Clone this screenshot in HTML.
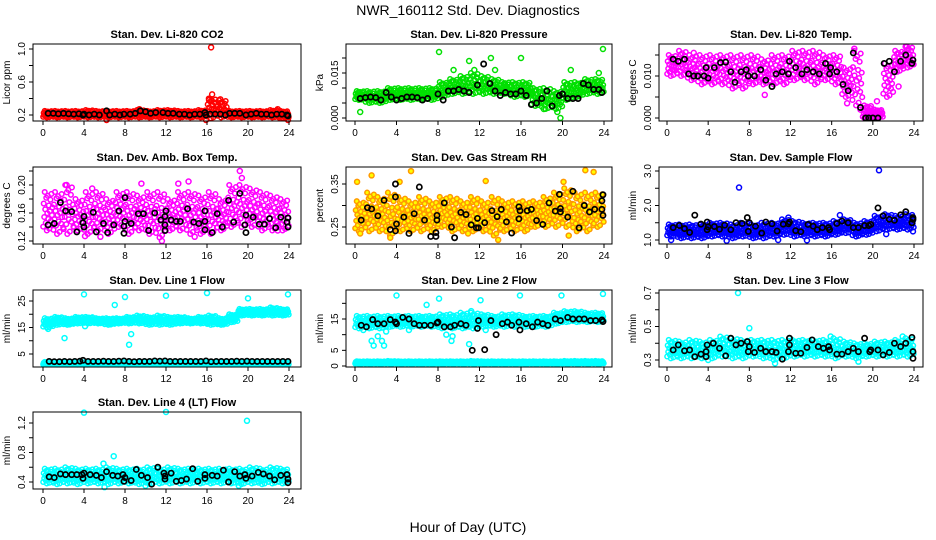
<!DOCTYPE html>
<html><head><meta charset="utf-8">
<style>
html,body{margin:0;padding:0;background:#fff;}
svg{display:block;font-family:"Liberation Sans",sans-serif;}
</style></head>
<body>
<svg id="chart" width="936" height="540" viewBox="0 0 936 540" xmlns="http://www.w3.org/2000/svg">
<rect width="936" height="540" fill="#fff"/>
<text x="468" y="15" text-anchor="middle" font-size="14">NWR_160112  Std. Dev. Diagnostics</text>
<text x="468" y="532" text-anchor="middle" font-size="14">Hour of Day (UTC)</text>
<g id="panels"></g>
</svg>
<script>
// ---------- DATA ----------
const hourTicks=[0,4,8,12,16,20,24];
// CO2
const co2Lo=[.17,.17,.17,.17,.17,.17,.17,.17,.17,.17,.17,.17,.17,.17,.17,.17,.16,.17,.17,.17,.17,.17,.17,.16];
const co2Hi=[.25,.25,.25,.25,.26,.25,.25,.25,.25,.26,.25,.26,.26,.25,.25,.26,.40,.38,.25,.25,.25,.25,.26,.25];
const co2Out=[[16.4,1.02],[16.5,.45],[16.2,.38],[17.3,.39],[15.9,.14],[23.9,.14],[6.2,.14],[9.4,.27],[22.9,.27]];
const co2Blk=[[0.5,.22],[1,.22],[1.5,.215],[2,.22],[2.5,.215],[3,.21],[3.5,.215],[3.9,.2],[4,.21],[4.5,.2],[5,.21],[5.5,.2],[6.2,.25],[6.5,.2],[7,.21],[7.5,.2],[7.9,.21],[8.5,.21],[9,.22],[9.5,.25],[10,.24],[10.5,.22],[11,.23],[11.7,.23],[12.2,.22],[12.7,.22],[13.3,.21],[13.8,.21],[14.3,.2],[14.8,.21],[15.3,.21],[15.8,.23],[15.9,.2],[16.3,.21],[16.8,.21],[17.3,.21],[17.8,.2],[18.2,.22],[18.7,.22],[19.2,.22],[19.8,.2],[20.3,.21],[20.8,.22],[21.3,.21],[21.8,.21],[22.3,.2],[22.8,.21],[23.3,.21],[23.8,.2],[23.9,.19]];
// Pressure
const presLo=[.006,.005,.005,.006,.006,.006,.006,.006,.007,.008,.008,.008,.008,.008,.008,.007,.007,.004,.003,.003,.006,.007,.008,.008];
const presHi=[.009,.009,.009,.010,.010,.010,.010,.010,.012,.013,.014,.015,.014,.013,.012,.012,.012,.010,.010,.009,.012,.012,.013,.013];
const presOut=[[0.5,.002],[8.1,.022],[11,.019],[11.5,.016],[13.1,.020],[13.5,.016],[16,.020],[19.5,.002],[19.8,0],[23.9,.023],[20.8,.016],[18.2,.003],[9.5,.016],[23.5,.015]];
const presBlk=[[0.5,.0065],[1,.0068],[1.5,.007],[2,.0068],[2.5,.006],[3,.0085],[3.5,.007],[4,.006],[4.5,.0065],[5,.007],[5.5,.007],[6,.0068],[6.5,.006],[7,.0065],[8,.008],[8.5,.006],[9,.009],[9.5,.009],[10,.0095],[10.5,.009],[11,.0085],[11.8,.011],[12.4,.018],[13,.0115],[13.5,.009],[14,.0075],[14.5,.0085],[15,.008],[15.5,.008],[16,.009],[16.5,.0075],[17,.0045],[17.5,.005],[18,.0065],[18.5,.009],[19,.004],[19.7,.0075],[20,.008],[20.5,.0065],[21,.0065],[21.5,.0065],[22,.0115],[22.5,.011],[23,.0095],[23.5,.0095],[23.8,.0085]];
// Li-820 Temp
const tempLo=[.010,.010,.009,.008,.008,.008,.007,.007,.008,.008,.008,.008,.009,.009,.008,.009,.008,.005,.003,0,0,.005,.011,.012];
const tempHi=[.015,.016,.015,.015,.015,.015,.015,.015,.015,.014,.015,.015,.016,.016,.016,.015,.015,.012,.016,.003,.002,.013,.016,.017];
const tempOut=[[9.5,.0055],[17.5,.0035],[18.8,.002],[19.2,0],[19.5,0],[20,0],[20.4,.004],[18.2,.0165],[22.5,.0075],[23.3,.017],[2.6,.0155]];
const tempBlk=[[0.6,.014],[1.1,.0135],[1.7,.014],[2.1,.0105],[2.6,.01],[3,.01],[3.6,.01],[3.8,.012],[4,.0095],[4.6,.012],[5.2,.0132],[5.7,.0133],[6.2,.011],[6.6,.0085],[7.2,.011],[7.7,.0115],[7.9,.01],[8.5,.01],[9.1,.0115],[9.6,.009],[10.2,.0075],[10.6,.0105],[11.2,.011],[11.8,.0105],[11.9,.0135],[12.5,.012],[13.1,.0105],[13.6,.0115],[14.2,.011],[14.8,.0105],[15.4,.013],[15.8,.0105],[15.9,.012],[16.5,.011],[17.1,.008],[17.6,.0065],[18.1,.0155],[18.8,.0025],[19.3,0],[19.6,0],[20,0],[20.5,0],[21.1,.013],[21.6,.0135],[22.1,.011],[22.7,.0135],[23.2,.015],[23.8,.013],[23.9,.0138]];
// Amb Box Temp
const ambLo=[.135,.13,.13,.135,.13,.135,.13,.14,.13,.135,.13,.125,.135,.135,.13,.13,.13,.135,.14,.14,.14,.135,.135,.135];
const ambHi=[.19,.19,.20,.18,.19,.19,.18,.19,.19,.185,.19,.19,.18,.19,.19,.185,.19,.18,.20,.20,.195,.19,.185,.18];
const ambOut=[[11.6,.12],[14.2,.205],[19.2,.22],[19.4,.21],[9.6,.202],[13.2,.202],[4.8,.195],[2.3,.2],[14.8,.126],[5.6,.126],[22.9,.135],[4.1,.127]];
const ambBlk=[[0.5,.143],[1.1,.145],[1.7,.175],[2.2,.163],[2.8,.162],[3.3,.133],[3.9,.146],[4,.14],[4,.155],[4.9,.161],[5.2,.133],[5.9,.145],[6.3,.132],[6.9,.143],[7.4,.163],[7.9,.141],[7.9,.131],[8,.148],[8,.182],[8.6,.145],[9.3,.159],[9.8,.159],[10.3,.135],[10.9,.16],[11.5,.15],[11.9,.135],[11.9,.143],[11.9,.155],[12,.163],[12.5,.15],[13,.148],[13.4,.148],[14.1,.166],[14.7,.147],[15.2,.145],[15.8,.148],[15.8,.163],[15.8,.136],[16.5,.132],[17,.159],[17.5,.14],[18.1,.178],[18.6,.147],[19.2,.188],[19.7,.143],[19.8,.157],[19.8,.132],[20.5,.154],[21.1,.144],[21.6,.144],[22.1,.152],[22.7,.139],[23.2,.154],[23.8,.147],[23.9,.14],[23.9,.153]];
// Gas Stream RH
const rhLo=[.24,.24,.24,.23,.24,.24,.24,.24,.25,.24,.24,.24,.24,.23,.24,.24,.24,.25,.25,.25,.25,.24,.24,.25];
const rhHi=[.31,.33,.32,.33,.32,.31,.32,.31,.32,.32,.31,.32,.31,.32,.31,.31,.31,.31,.32,.33,.34,.33,.33,.33];
const rhOut=[[0.2,.355],[1.6,.37],[5.4,.38],[13.8,.22],[22.2,.382],[23,.378],[3.4,.225],[20.1,.355],[4.3,.355],[12.6,.357],[0.5,.235],[10.9,.235],[20.6,.23]];
const rhBlk=[[0.6,.266],[1.2,.295],[1.6,.292],[2.2,.276],[2.8,.312],[3.4,.244],[3.9,.35],[3.9,.32],[3.9,.241],[4,.257],[4.7,.273],[5.2,.235],[5.7,.281],[6.2,.343],[6.7,.266],[7.3,.228],[7.8,.228],[7.8,.237],[7.9,.266],[7.9,.277],[8.6,.306],[9.3,.25],[9.6,.225],[10.2,.284],[10.7,.279],[11.2,.255],[11.7,.248],[11.8,.27],[11.9,.248],[12.5,.26],[13.2,.288],[13.7,.274],[14.1,.291],[14.6,.262],[15.1,.236],[15.8,.297],[15.8,.269],[15.9,.288],[16.6,.288],[17,.291],[17.5,.265],[18.1,.256],[18.7,.306],[19.3,.287],[19.7,.326],[19.8,.293],[19.8,.285],[20.5,.273],[21,.333],[21.6,.248],[22.1,.3],[22.6,.285],[23.1,.291],[23.8,.291],[23.8,.311],[23.9,.277],[23.9,.325]];
// Sample Flow
const sfLo=[1.1,1.05,1.05,1.05,1.1,1.1,1.05,1.1,1.05,1.05,1.1,1.15,1.1,1.1,1.1,1.1,1.15,1.2,1.1,1.15,1.25,1.3,1.3,1.3];
const sfHi=[1.45,1.45,1.45,1.45,1.5,1.5,1.45,1.5,1.45,1.5,1.5,1.6,1.55,1.5,1.5,1.5,1.55,1.6,1.5,1.55,1.7,1.75,1.7,1.75];
const sfOut=[[7,2.52],[20.6,3.02],[5.8,.98],[13.6,.99],[21.3,1.17],[16.8,1.72],[11.8,1.65],[0.4,1.0],[10.8,1.0],[23.9,1.25]];
const sfBlk=[[0.6,1.36],[1.2,1.42],[1.7,1.33],[2.2,1.22],[2.7,1.72],[3.3,1.46],[3.9,1.52],[3.9,1.3],[4,1.38],[4.6,1.39],[5.1,1.31],[5.6,1.43],[6.2,1.3],[6.7,1.5],[7.3,1.48],[7.8,1.65],[7.9,1.25],[8,1.5],[8.6,1.4],[9.2,1.2],[9.6,1.52],[10.2,1.47],[10.7,1.26],[11.3,1.46],[11.8,1.47],[11.9,1.52],[12.5,1.27],[13,1.24],[13.7,1.45],[14.2,1.4],[14.6,1.3],[15.1,1.36],[15.7,1.36],[15.8,1.3],[16.5,1.48],[17,1.55],[17.6,1.5],[18.1,1.36],[18.6,1.36],[19.2,1.42],[19.6,1.42],[19.8,1.45],[20.5,1.93],[21,1.7],[21.6,1.6],[22.1,1.57],[22.7,1.73],[23.2,1.82],[23.8,1.5],[23.9,1.6],[23.9,1.65]];
// Line 1 Flow
const l1Lo=[15,16,16,16.5,16.5,16.5,16,16.5,16.5,16.5,16,16,16,16.5,16.5,16.5,16,16,17,19.5,19.5,19.5,19.5,19.5];
const l1Hi=[18.5,19,18.5,19,19,18.5,18.5,18.5,19,19.5,19,19.5,19,19,18.5,19,19.5,18.5,20,22,22,22,22.5,22];
const l1BandLo=[1,1,1,1,1,1,1,1,1,1,1,1,1,1,1,1,1,1,1,1,1,1,1,1];
const l1BandHi=[2,2,2,2,2,2,2,2,2,2,2,2,2,2,2,2,2,2,2,2,2,2,2,2];
const l1Out=[[4,27.5],[8,26.5],[12,27],[16,28],[20,26],[23.9,27.5],[7,23.5],[2.1,11],[8.4,8.5],[8.6,12.5],[4.1,15.5],[0.5,14.5],[22.2,22.5]];
const l1Blk=[[0.6,2.2],[1.1,2.1],[1.6,2.1],[2.1,2.2],[2.6,2.1],[3.1,2.2],[3.6,2.3],[3.9,2.6],[4.4,2.2],[4.9,2.2],[5.4,2.2],[5.9,2.3],[6.4,2.2],[6.9,2.2],[7.4,2.3],[7.9,2.4],[8.4,2.2],[8.9,2.1],[9.4,2.2],[9.9,2.2],[10.4,2.2],[10.9,2.4],[11.4,2.3],[11.9,2.4],[12.4,2.2],[12.9,2.2],[13.4,2.2],[13.9,2.2],[14.4,2.2],[14.9,2.2],[15.4,2.2],[15.9,2.4],[16.4,2.1],[16.9,2.2],[17.4,2.2],[17.9,2.2],[18.4,2.2],[18.9,2.3],[19.4,2.2],[19.9,2.3],[20.4,2.2],[20.9,2.2],[21.4,2.2],[21.9,2.2],[22.4,2.2],[22.9,2.2],[23.4,2.2],[23.9,2.2]];
// Line 2 Flow
const l2Lo=[12,12,12,12.5,12.5,12.5,12.5,12.5,12,12,12,12,12.5,12.5,12.5,12.5,12.5,12.5,12.5,13.5,14,14,14,14];
const l2Hi=[16,16,16,16,16,16,16,16,16.5,16.5,17,17,16.5,16,16.5,16.5,16,16,16,17,17.5,17.5,17,17];
const l2BandLo=[.7,.7,.7,.7,.7,.7,.7,.7,.7,.7,.7,.7,.7,.7,.7,.7,.7,.7,.7,.7,.7,.7,.7,.7];
const l2BandHi=[1.5,1.5,1.5,1.6,1.5,1.5,1.5,1.5,1.5,1.5,1.5,1.6,1.5,1.5,1.5,1.5,1.5,1.5,1.5,1.5,1.6,1.6,1.6,1.6];
const l2Out=[[4,22.5],[8.1,21.5],[12.1,21],[15.9,22.5],[19.9,22.5],[23.9,23],[6.9,19.5],[1.6,8],[1.8,6.5],[2.2,9.5],[2.6,8],[2.8,6.5],[3,11],[0.8,11.5],[5.2,11.5],[8.8,10],[9.3,8],[9.4,9.5],[11,7],[12.6,11.5],[11.2,17.5]];
const l2Blk=[[0.6,13],[1.1,12.5],[1.7,14.8],[2.2,13.5],[2.8,13.5],[3.4,14.8],[3.9,14],[4,13.5],[4.6,15.5],[5.2,15],[5.7,13.5],[6.2,13],[6.7,13],[7.3,13],[7.9,13.7],[8,14],[8.6,12.5],[9.2,12.5],[9.6,13],[10.2,13.5],[10.7,13],[11.3,5],[11.8,12],[11.9,14.5],[12.5,5.2],[13.1,14.5],[13.6,10],[14.2,13.5],[14.7,14],[15.1,13],[15.8,14],[15.9,11.5],[16.5,13.5],[17.1,12.5],[17.6,14],[18.1,13.5],[18.6,13],[19.3,15],[19.8,14.5],[20.5,15.5],[21,15],[21.6,15],[22.1,15],[22.7,14.5],[23.2,14.5],[23.8,14.7],[23.9,14.2]];
// Line 3 Flow
const l3Lo=[.31,.31,.31,.31,.31,.32,.31,.31,.32,.31,.30,.31,.32,.32,.32,.32,.31,.32,.31,.32,.32,.32,.32,.32];
const l3Hi=[.42,.41,.42,.41,.42,.44,.43,.42,.42,.42,.42,.42,.42,.42,.42,.42,.43,.41,.40,.40,.41,.41,.42,.43];
const l3Out=[[6.9,.7],[8,.49],[10.5,.28],[18.6,.29],[4,.3],[15.9,.44],[22.9,.44]];
const l3Blk=[[0.6,.36],[1.1,.39],[1.7,.355],[2.2,.36],[2.7,.32],[3.3,.335],[3.8,.35],[3.8,.32],[3.9,.39],[4.5,.4],[5.1,.37],[5.7,.325],[6.2,.43],[6.7,.39],[7.2,.4],[7.8,.41],[7.9,.35],[8,.38],[8.5,.345],[9.1,.37],[9.6,.35],[10.2,.35],[10.6,.345],[11.2,.305],[11.8,.35],[11.9,.39],[11.9,.43],[12.5,.34],[13,.34],[13.6,.375],[14.1,.42],[14.7,.38],[15.2,.37],[15.7,.38],[15.8,.36],[16.5,.335],[17,.335],[17.6,.35],[18.1,.37],[18.6,.35],[19.2,.43],[19.7,.35],[19.8,.36],[20.5,.36],[21,.33],[21.6,.345],[22.1,.4],[22.7,.38],[23.2,.4],[23.8,.435],[23.9,.35],[23.9,.31]];
// Line 4 (LT) Flow
const l4Lo=[.38,.37,.38,.37,.38,.38,.37,.38,.38,.37,.37,.38,.38,.38,.38,.38,.38,.38,.38,.37,.38,.37,.38,.38];
const l4Hi=[.58,.58,.60,.58,.58,.58,.60,.58,.58,.58,.60,.58,.60,.58,.58,.58,.58,.58,.58,.58,.60,.58,.60,.58];
const l4Out=[[4,1.34],[12,1.35],[19.9,1.23],[6.9,.75],[6,.33],[5.9,.65],[10,.35],[19.1,.35]];
const l4Blk=[[0.6,.47],[1.1,.46],[1.7,.51],[2.2,.5],[2.8,.5],[3.3,.5],[3.8,.5],[3.9,.45],[4,.52],[4.6,.5],[5.2,.49],[5.7,.46],[6.2,.54],[6.8,.49],[7.3,.48],[7.8,.5],[7.9,.41],[8,.46],[8.6,.42],[9.1,.57],[9.6,.49],[10.2,.46],[10.6,.37],[11.2,.6],[11.8,.52],[11.9,.48],[11.9,.44],[12.5,.52],[13,.41],[13.5,.42],[14,.44],[14.6,.58],[15.1,.41],[15.8,.5],[15.8,.45],[16.5,.49],[17,.48],[17.6,.56],[18.1,.4],[18.7,.54],[19.2,.48],[19.7,.5],[19.8,.45],[20.4,.48],[21,.53],[21.5,.51],[22.1,.48],[22.6,.43],[23.2,.49],[23.8,.5],[23.9,.44],[23.9,.39]];

// ---------- LAYOUT ----------
const cols=[{bl:33,br:301,x0:43,x24:289},{bl:346,br:612,x0:355,x24:604},{bl:659,br:923,x0:667,x24:914}];
const rows=[{t:44,b:121},{t:167,b:244},{t:290,b:367},{t:412,b:489}];
const panels=[
 {name:'co2',title:'Stan. Dev. Li-820 CO2',ylab:'Licor ppm',c:0,r:0,va:0.2,pa:115,vb:1.0,pb:49,ticks:[.2,.4,.6,.8,1.0],labs:['0.2','0.6','1.0'],labv:[.2,.6,1.0],col:'#ff0000',fill:'none',lo:co2Lo,hi:co2Hi,out:co2Out,blk:co2Blk},
 {name:'pressure',title:'Stan. Dev. Li-820 Pressure',ylab:'kPa',c:1,r:0,va:0,pa:118,vb:.015,pb:73,ticks:[0,.005,.01,.015,.02],labs:['0.000','0.015'],labv:[0,.015],col:'#00e000',fill:'none',lo:presLo,hi:presHi,out:presOut,blk:presBlk},
 {name:'licor-temp',title:'Stan. Dev. Li-820 Temp.',ylab:'degrees C',c:2,r:0,va:0,pa:118,vb:.01,pb:76,ticks:[0,.005,.01,.015],labs:['0.000','0.010'],labv:[0,.01],col:'#ff00ff',fill:'none',lo:tempLo,hi:tempHi,out:tempOut,blk:tempBlk},
 {name:'amb-box-temp',title:'Stan. Dev. Amb. Box Temp.',ylab:'degrees C',c:0,r:1,va:.12,pa:241,vb:.20,pb:185,ticks:[.12,.14,.16,.18,.20,.22],labs:['0.12','0.16','0.20'],labv:[.12,.16,.20],col:'#ff00ff',fill:'none',lo:ambLo,hi:ambHi,out:ambOut,blk:ambBlk},
 {name:'gas-stream-rh',title:'Stan. Dev. Gas Stream RH',ylab:'percent',c:1,r:1,va:.25,pa:227,vb:.35,pb:184,ticks:[.25,.30,.35],labs:['0.25','0.35'],labv:[.25,.35],col:'#ff9900',fill:'#ffff00',lo:rhLo,hi:rhHi,out:rhOut,blk:rhBlk},
 {name:'sample-flow',title:'Stan. Dev. Sample Flow',ylab:'ml/min',c:2,r:1,va:1,pa:240,vb:3,pb:171,ticks:[1,1.5,2,2.5,3],labs:['1.0','2.0','3.0'],labv:[1,2,3],col:'#0000ff',fill:'none',lo:sfLo,hi:sfHi,out:sfOut,blk:sfBlk},
 {name:'line1-flow',title:'Stan. Dev. Line 1 Flow',ylab:'ml/min',c:0,r:2,va:5,pa:354,vb:25,pb:301,ticks:[5,10,15,20,25],labs:['5','15','25'],labv:[5,15,25],col:'#00ffff',fill:'none',lo:l1Lo,hi:l1Hi,lo2:l1BandLo,hi2:l1BandHi,out:l1Out,blk:l1Blk},
 {name:'line2-flow',title:'Stan. Dev. Line 2 Flow',ylab:'ml/min',c:1,r:2,va:0,pa:366,vb:15,pb:319,ticks:[0,5,10,15,20],labs:['0','5','15'],labv:[0,5,15],col:'#00ffff',fill:'none',lo:l2Lo,hi:l2Hi,lo2:l2BandLo,hi2:l2BandHi,out:l2Out,blk:l2Blk},
 {name:'line3-flow',title:'Stan. Dev. Line 3 Flow',ylab:'ml/min',c:2,r:2,va:.3,pa:360,vb:.7,pb:293,ticks:[.3,.4,.5,.6,.7],labs:['0.3','0.5','0.7'],labv:[.3,.5,.7],col:'#00ffff',fill:'none',lo:l3Lo,hi:l3Hi,out:l3Out,blk:l3Blk},
 {name:'line4-flow',title:'Stan. Dev. Line 4 (LT) Flow',ylab:'ml/min',c:0,r:3,va:.4,pa:482,vb:1.2,pb:423,ticks:[.4,.6,.8,1,1.2],labs:['0.4','0.8','1.2'],labv:[.4,.8,1.2],col:'#00ffff',fill:'none',lo:l4Lo,hi:l4Hi,out:l4Out,blk:l4Blk}
];
const fx=[0.02,0.07,0.12,0.17,0.22,0.27,0.32,0.37,0.42,0.47,0.52,0.57,0.62,0.67,0.72,0.77,0.82,0.87,0.92,0.97];
const fy=[0.1,0.7,0.35,1,0.55,0.2,0.85,0,0.45,0.9,0.3,0.65,0.05,0.5,0.8,0.25,0.95,0.4,0.6,0.15];

const NS='http://www.w3.org/2000/svg';
const root=document.getElementById('panels');
function mk(tag,attrs,parent){const e=document.createElementNS(NS,tag);for(const k in attrs)e.setAttribute(k,attrs[k]);parent.appendChild(e);return e;}

panels.forEach(p=>{
  const C=cols[p.c],R=rows[p.r];
  const xs=t=>C.x0+(C.x24-C.x0)*t/24;
  const ys=v=>p.pa+(v-p.va)*(p.pb-p.pa)/(p.vb-p.va);
  const g=mk('g',{},root);
  
  
  const pts=mk('g',{},g);
  
  
  function cloud(lo,hi){
    for(let h=0;h<lo.length;h++){
      for(let k=0;k<fx.length;k++){
        const v=lo[h]+(hi[h]-lo[h])*fy[k];
        const c=mk('circle',{cx:xs(h+fx[k]),cy:ys(v),r:2.3,fill:p.fill,stroke:p.col,'stroke-width':1.5},pts);
        
        
      }
    }
  }
  cloud(p.lo,p.hi);
  if(p.lo2)cloud(p.lo2,p.hi2);
  p.out.forEach(d=>{
    const c=mk('circle',{cx:xs(d[0]),cy:ys(d[1]),r:2.5,fill:p.fill,stroke:p.col,'stroke-width':1.5},pts);
    
    
  });
  p.blk.forEach(d=>{
    const c=mk('circle',{cx:xs(d[0]),cy:ys(d[1]),r:2.6,fill:'none',stroke:'#000','stroke-width':1.7},pts);
    
    
  });
  const box=mk('rect',{x:C.bl,y:R.t,width:C.br-C.bl,height:R.b-R.t,fill:'none',stroke:'#000','stroke-width':1},g);
  
  
  const tt=mk('text',{x:(C.bl+C.br)/2,y:R.t-6,'text-anchor':'middle','font-size':11,'font-weight':'bold'},g);
  tt.textContent=p.title;
  
  
  hourTicks.forEach(t=>{
    mk('line',{x1:xs(t),x2:xs(t),y1:R.b,y2:R.b+4,stroke:'#000'},g);
    const l=mk('text',{x:xs(t),y:R.b+15,'text-anchor':'middle','font-size':10},g);
    l.textContent=t;
    
    
  });
  p.ticks.forEach(v=>{mk('line',{x1:C.bl-4,x2:C.bl,y1:ys(v),y2:ys(v),stroke:'#000'},g);});
  p.labs.forEach((s,i)=>{
    const y=ys(p.labv[i]),x=C.bl-8;
    const l=mk('text',{x:x,y:y,'text-anchor':'middle','font-size':10,transform:'rotate(-90 '+x+' '+y+')'},g);
    l.textContent=s;
    
    
  });
  const yx=C.bl-23,yy=(R.t+R.b)/2;
  const yl=mk('text',{x:yx,y:yy,'text-anchor':'middle','font-size':10,transform:'rotate(-90 '+yx+' '+yy+')'},g);
  yl.textContent=p.ylab;
  
  
});
</script>
</body></html>
